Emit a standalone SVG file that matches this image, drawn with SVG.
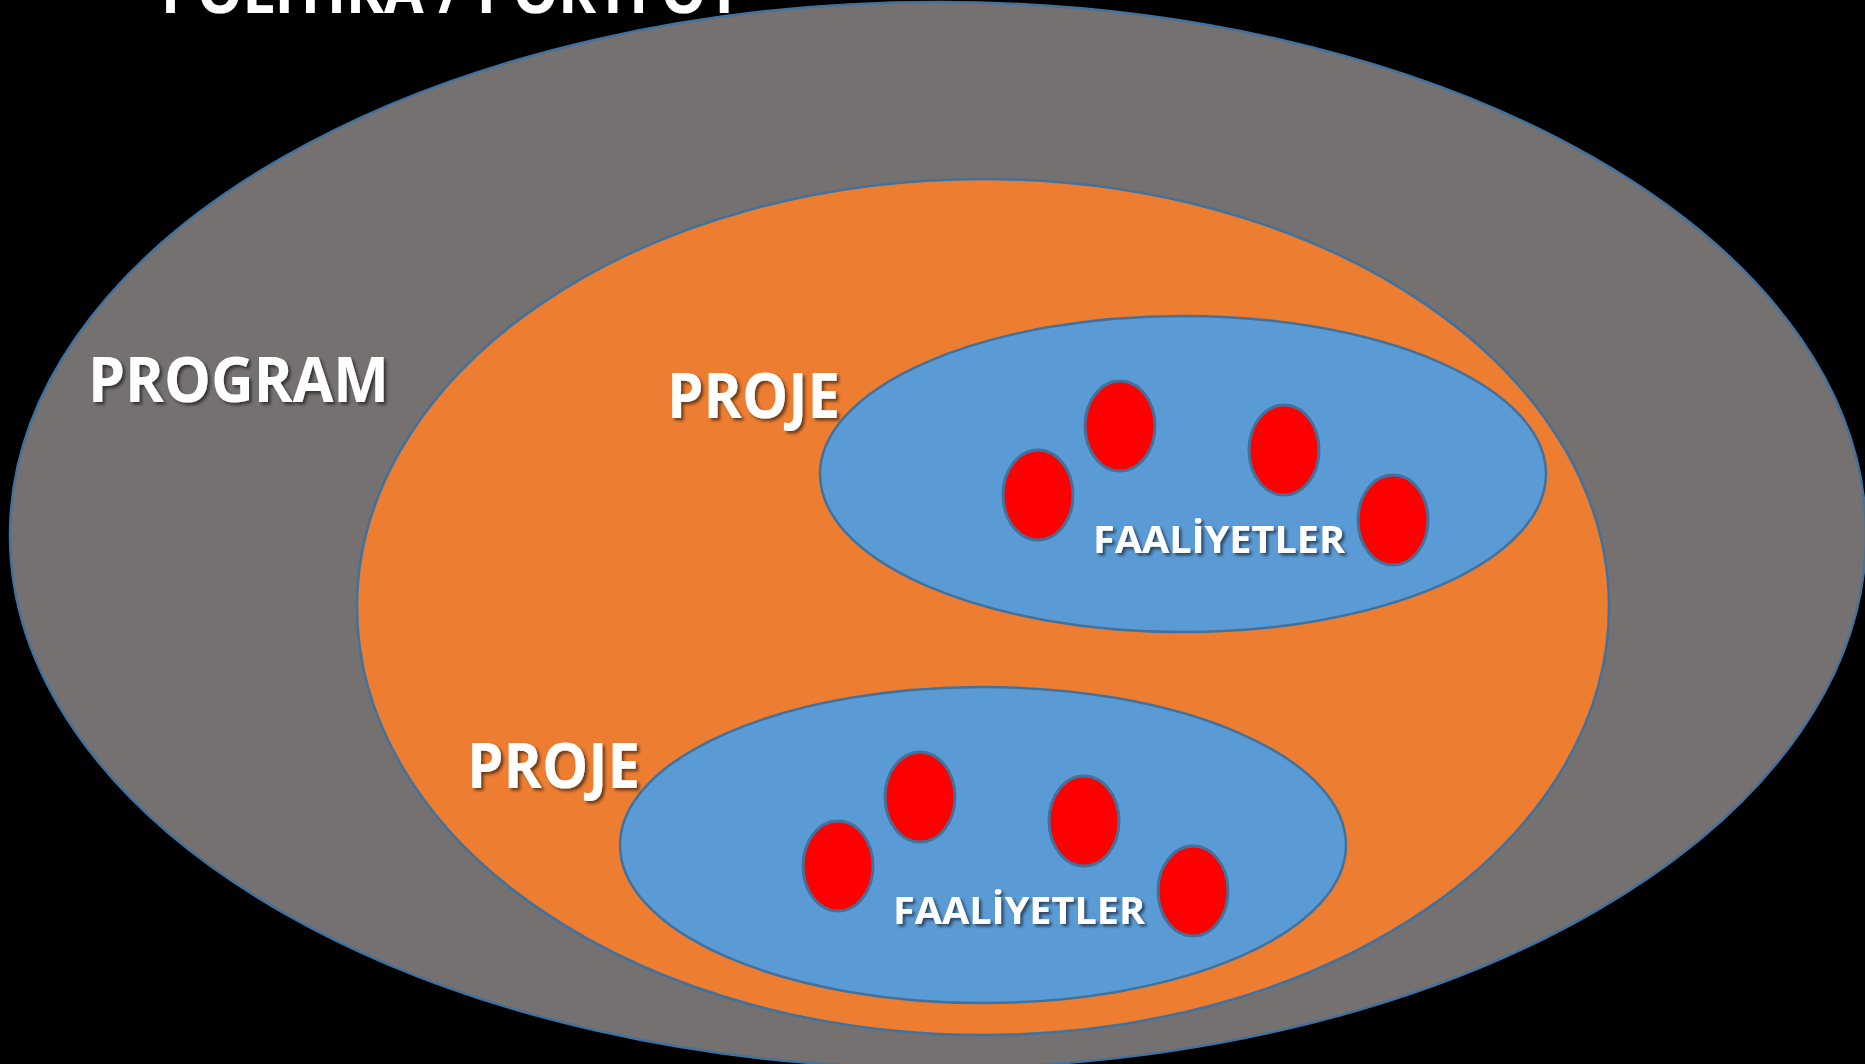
<svg xmlns="http://www.w3.org/2000/svg" width="1865" height="1064" viewBox="0 0 1865 1064">
<defs>
<filter id="sh" x="-10%" y="-30%" width="120%" height="160%">
<feDropShadow dx="2.5" dy="2.5" stdDeviation="1.5" flood-color="#000" flood-opacity="0.55"/>
</filter>
</defs>
<style>
.ol{stroke:#41719C;stroke-width:2.5}
.gray{fill:#767171}
.orange{fill:#ED7D31}
.blue{fill:#5B9BD5}
.red{fill:#FF0000;stroke:#41719C;stroke-width:3}
.t{font-family:"Open Sans","Lato","DejaVu Sans",sans-serif;font-weight:700;fill:#FFFFFF;filter:url(#sh)}
.big{font-size:63px}
.small{font-size:37px}
</style>
<rect x="0" y="0" width="1865" height="1064" fill="#000000"/>
<g id="title">
<text class="t big" x="161" y="13" textLength="581" lengthAdjust="spacingAndGlyphs">POLİTİKA / PORTFÖY</text>
</g>
<g id="program">
<ellipse class="gray ol" cx="938" cy="535" rx="928" ry="533"/>
<text class="t big" x="88" y="402" textLength="301" lengthAdjust="spacingAndGlyphs">PROGRAM</text>
</g>
<g id="proje-outer">
<ellipse class="orange ol" cx="983" cy="607" rx="626" ry="428"/>
</g>
<g id="proje1">
<text class="t big" x="667" y="418" textLength="173" lengthAdjust="spacingAndGlyphs">PROJE</text>
<ellipse class="blue ol" cx="1183" cy="474" rx="363" ry="158"/>
<g id="faaliyet1">
<ellipse class="red" cx="1120" cy="426" rx="35" ry="45"/>
<ellipse class="red" cx="1038" cy="495" rx="35" ry="45"/>
<ellipse class="red" cx="1284" cy="450" rx="35" ry="45"/>
<ellipse class="red" cx="1393" cy="520" rx="35" ry="45"/>
<text class="t small" x="1093" y="553" textLength="252" lengthAdjust="spacingAndGlyphs">FAALİYETLER</text>
</g>
</g>
<g id="proje2">
<text class="t big" x="467" y="788" textLength="173" lengthAdjust="spacingAndGlyphs">PROJE</text>
<ellipse class="blue ol" cx="983" cy="845" rx="363" ry="158"/>
<g id="faaliyet2">
<ellipse class="red" cx="920" cy="797" rx="35" ry="45"/>
<ellipse class="red" cx="838" cy="866" rx="35" ry="45"/>
<ellipse class="red" cx="1084" cy="821" rx="35" ry="45"/>
<ellipse class="red" cx="1193" cy="891" rx="35" ry="45"/>
<text class="t small" x="893" y="924" textLength="252" lengthAdjust="spacingAndGlyphs">FAALİYETLER</text>
</g>
</g>
<g id="connectors"/>
</svg>
